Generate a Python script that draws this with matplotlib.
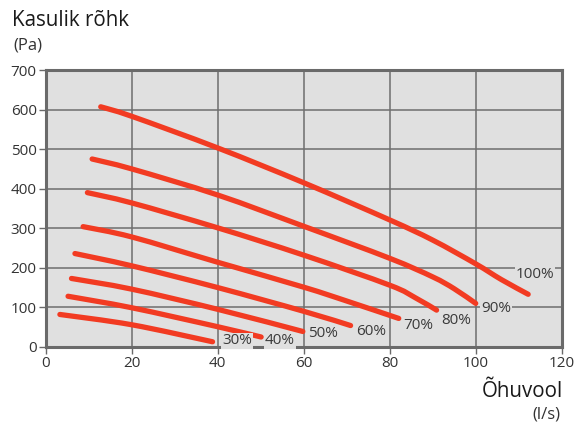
import matplotlib
matplotlib.use("Agg")
import matplotlib.pyplot as plt
from matplotlib.path import Path
from matplotlib.patches import PathPatch
import numpy as np

plt.rcParams['font.family'] = ['Open Sans', 'DejaVu Sans']

labels = ["100%", "90%", "80%", "70%", "60%", "50%", "40%", "30%"]

flow_100 = [12.8, 20, 40, 60, 80, 90, 100, 106, 112.2]
pres_100 = [607, 583, 503, 415, 321, 270, 210, 170, 133]
flow_90 = [10.8, 20, 40, 60, 80, 90, 95, 100]
pres_90 = [475, 450, 384, 305, 224, 177, 147, 110]
flow_80 = [9.7, 20, 40, 60, 80, 86, 90.9]
pres_80 = [390, 364, 301, 232, 156, 124, 93]
flow_70 = [8.7, 20, 40, 60, 70, 82.1]
pres_70 = [304, 278, 214, 151, 116, 72]
flow_60 = [6.8, 20, 40, 60, 70.9]
pres_60 = [236, 205, 150, 90, 54]
flow_50 = [6.0, 20, 40, 59.8]
pres_50 = [173, 146, 95, 39]
flow_40 = [5.2, 20, 40, 50.1]
pres_40 = [128, 99, 51, 25]
flow_30 = [3.3, 20, 38.8]
pres_30 = [82, 56, 13]

flows = [flow_100, flow_90, flow_80, flow_70, flow_60, flow_50, flow_40, flow_30]
pressures = [pres_100, pres_90, pres_80, pres_70, pres_60, pres_50, pres_40, pres_30]

label_x = [109.3, 101.2, 91.9, 83.2, 72.1, 60.9, 51.0, 41.0]
label_y = [184, 97, 68, 53, 38, 33, 15, 15]

x_ticks = [0, 20, 40, 60, 80, 100, 120]
y_ticks = [0, 100, 200, 300, 400, 500, 600, 700]


def smooth_path(xs, ys):
    """Catmull-Rom curve through the given points, as cubic Bezier segments."""
    p = np.column_stack([xs, ys]).astype(float)
    ext = np.vstack([p[0], p, p[-1]])
    verts = [p[0]]
    codes = [Path.MOVETO]
    for i in range(len(p) - 1):
        a, b, c, d = ext[i], ext[i + 1], ext[i + 2], ext[i + 3]
        verts += [b + (c - a) / 6.0, c - (d - b) / 6.0, c]
        codes += [Path.CURVE4] * 3
    return Path(verts, codes)


fig = plt.figure(figsize=(5.77, 4.23), dpi=100)
ax = fig.add_axes([0.0792, 0.1799, 0.8943, 0.6546])
ax.set_facecolor('#e0e0e0')
ax.set_xlim(0, 120)
ax.set_ylim(0, 700)
ax.set_xticks(x_ticks)
ax.set_yticks(y_ticks)
ax.grid(True, color='#6e6e6e', linewidth=1.1, zorder=1)
ax.set_axisbelow(True)
for s in ax.spines.values():
    s.set_color('#6a6a6a')
    s.set_linewidth(2.2)
ax.tick_params(direction='out', length=5, width=1.0, color='#6a6a6a',
               labelsize=11, labelcolor='#333333', pad=1.5)

red = '#f23b22'
for fx, py in zip(flows, pressures):
    patch = PathPatch(smooth_path(fx, py), facecolor='none', edgecolor=red,
                      linewidth=3.8, capstyle='round', joinstyle='round', zorder=3)
    ax.add_patch(patch)

for lab, lx, ly in zip(labels, label_x, label_y):
    ax.text(lx, ly, lab, fontsize=11, color='#3a3a3a', ha='left', va='center',
            zorder=4, bbox=dict(facecolor='#e0e0e0', edgecolor='none', pad=0.5))

fig.text(12 / 577, 1 - 20 / 423, "Kasulik rõhk", fontsize=14.8, color='#1a1a1a',
         ha='left', va='center')
fig.text(13 / 577, 1 - 45 / 423, "(Pa)", fontsize=12, color='#333333',
         ha='left', va='center')
fig.text(563 / 577, 1 - 391 / 423, "Õhuvool", fontsize=14.8, color='#1a1a1a',
         ha='right', va='center')
fig.text(560 / 577, 1 - 414 / 423, "(l/s)", fontsize=12, color='#333333',
         ha='right', va='center')

fig.savefig('out.png', dpi=100)
